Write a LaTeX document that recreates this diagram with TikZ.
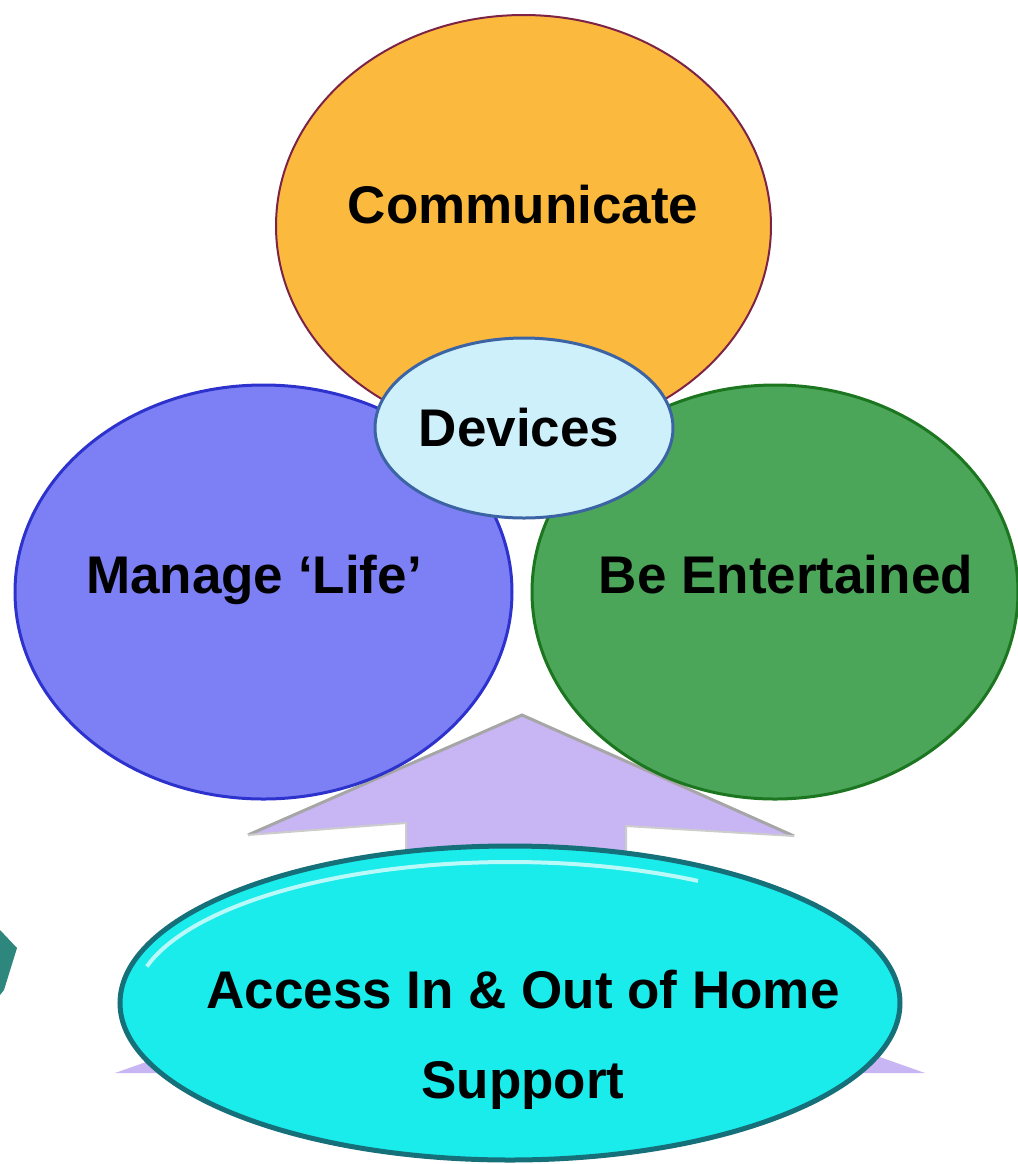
\documentclass[tikz,border=0pt]{standalone}
\usepackage{fontspec}
\setmainfont{Liberation Sans}
\usetikzlibrary{shapes.geometric, positioning}
\definecolor{commorange}{RGB}{251,186,62}
\definecolor{commedge}{RGB}{125,35,70}
\definecolor{lifeblue}{RGB}{124,128,244}
\definecolor{lifeedge}{RGB}{45,50,205}
\definecolor{funggreen}{RGB}{76,166,90}
\definecolor{funedge}{RGB}{28,118,32}
\definecolor{devfill}{RGB}{205,240,250}
\definecolor{devedge}{RGB}{60,100,165}
\definecolor{arrowlilac}{RGB}{200,181,243}
\definecolor{accesscyan}{RGB}{26,235,235}
\definecolor{accessedge}{RGB}{22,112,122}
\definecolor{tealbit}{RGB}{45,135,125}

\begin{document}
\begin{tikzpicture}[x=0.5pt, y=-0.5pt,
  bubble/.style={ellipse, draw, line width=1.5pt, inner sep=0pt},
  bubbletext/.style={font=\fontsize{26.5}{30}\selectfont\bfseries, inner sep=0pt}]
  \useasboundingbox (0,0) rectangle (1018,1164);

  % Communicate
  \node[bubble, draw=commedge, line width=1pt, fill=commorange,
        minimum width=247.5pt, minimum height=211pt] (comm) at (523.5,226) {};

  % Arrow from the bottom
  \fill[arrowlilac] (115,1073) -- (520,930) -- (925,1073) -- cycle;
  \fill[arrowlilac] (406,1000) -- (406,823) -- (248,835) -- (522,715)
    -- (794,836) -- (626,826) -- (626,1000) -- cycle;
  \draw[gray!70, line width=1.5pt] (248,835) -- (522,715) -- (794,836);
  \draw[gray!40, line width=1pt] (248,835) -- (406,823) -- (406,900);
  \draw[gray!40, line width=1pt] (794,836) -- (626,826) -- (626,900);

  % Manage and Be Entertained
  \node[bubble, draw=lifeedge, fill=lifeblue,
        minimum width=248.5pt, minimum height=207pt] (life) at (263.5,592) {};
  \node[bubble, draw=funedge, fill=funggreen,
        minimum width=243pt, minimum height=207pt] (fun) at (775,592) {};

  % Devices
  \node[bubble, draw=devedge, fill=devfill,
        minimum width=149pt, minimum height=90pt] (dev) at (524,428) {};

  % Access
  \node[bubble, draw=accessedge, line width=2.5pt, fill=accesscyan,
        minimum width=390pt, minimum height=157pt] (access) at (510,1003) {};
  \draw[white, opacity=0.7, line width=2pt]
    ([shift={(195:376 and 141)}]access.center)
      arc[start angle=195, end angle=300, x radius=376, y radius=141];

  % small corner at the left
  \fill[tealbit] (0,930) -- (17,948) -- (4,990) -- (0,995) -- cycle;

  % texts
  \node[bubbletext] (commtext) at (523,205) {Communicate};
  \node[bubbletext] (devtext) at (519,428) {Devices};
  \node[bubbletext] (lifetext) at (254,580) {Manage ‘Life’};
  \node[bubbletext] (funtext) at (786,575) {Be Entertained};
  \node[bubbletext] (accesstext) at (523,990) {Access In \& Out of Home};
  \node[bubbletext] (supporttext) at (523,1085) {Support};
\end{tikzpicture}
\end{document}
